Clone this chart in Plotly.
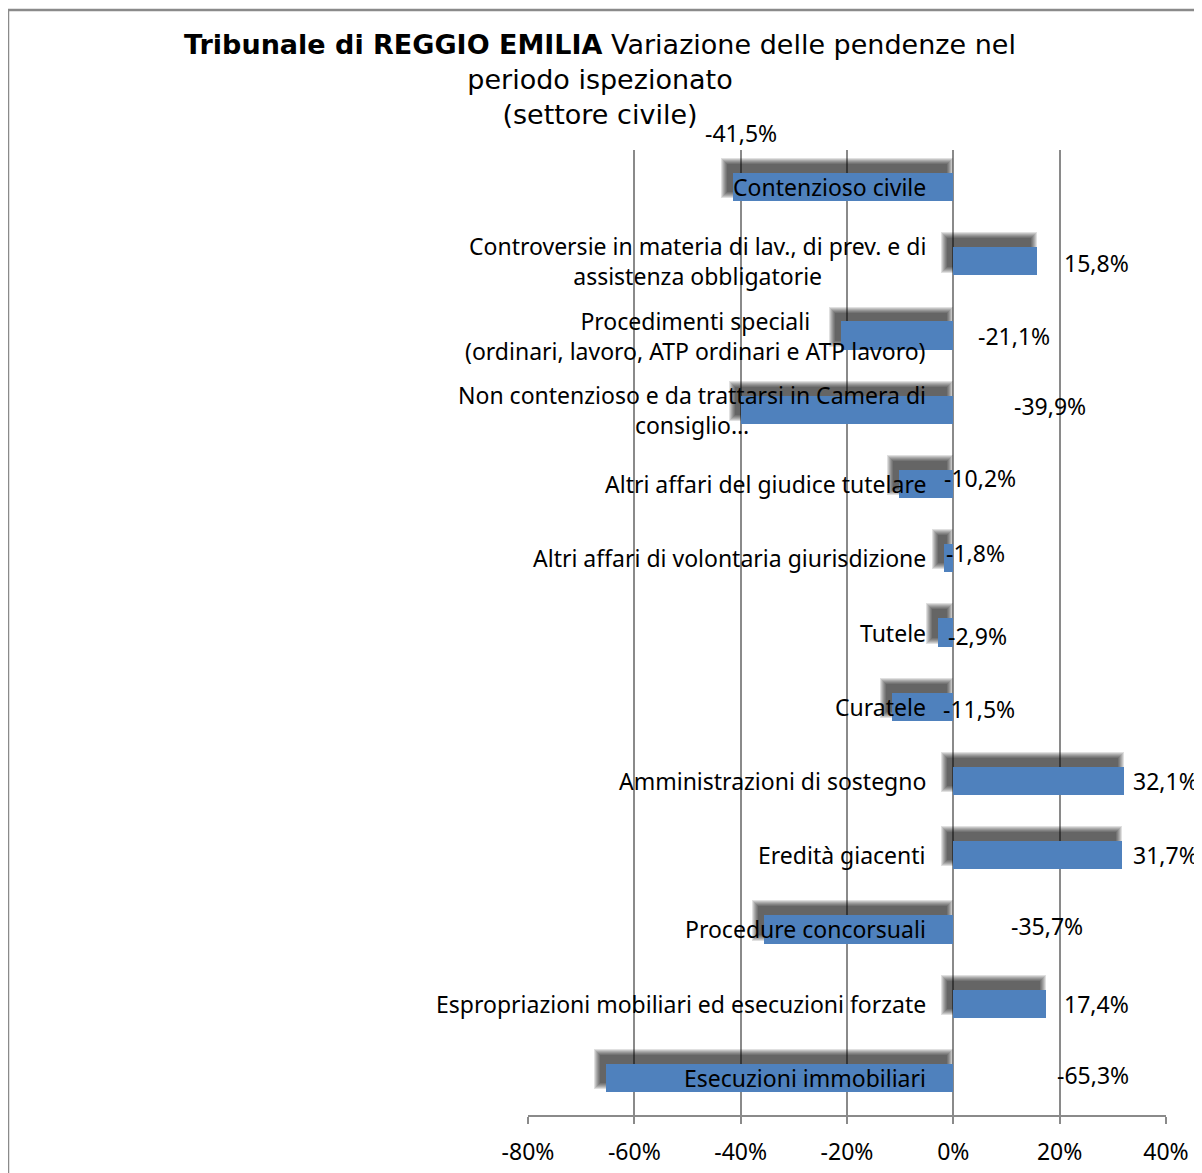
import plotly.graph_objects as go

# Dati: variazione percentuale delle pendenze (settore civile)
categorie = [
    "Contenzioso civile",
    "Controversie in materia di lav., di prev. e di<br>assistenza obbligatorie",
    "Procedimenti speciali<br>(ordinari, lavoro, ATP ordinari e ATP lavoro)",
    "Non contenzioso e da trattarsi in Camera di<br>consiglio…",
    "Altri affari del giudice tutelare",
    "Altri affari di volontaria giurisdizione",
    "Tutele",
    "Curatele",
    "Amministrazioni di sostegno",
    "Eredità giacenti",
    "Procedure concorsuali",
    "Espropriazioni mobiliari ed esecuzioni forzate",
    "Esecuzioni immobiliari",
]
variazioni = [-41.5, 15.8, -21.1, -39.9, -10.2, -1.8, -2.9, -11.5, 32.1, 31.7, -35.7, 17.4, -65.3]

tick_vals = [-80, -60, -40, -20, 0, 20, 40]
tick_text = ["-80%", "-60%", "-40%", "-20%", "0%", "20%", "40%"]

# spostamento (px) delle etichette dati rispetto alla linea dello zero, come nell'originale
label_dx = [-250, 109, 23, 59, -11, -9, -7, -12, 178, 178, 56, 109, 102]
label_dy = [-54, 2, 0, -4, -6, -5, 3, 2, 0, 0, -3, 0, -3]

W, H = 1202, 1173
OFF = 8  # margine del body della pagina
L, R, T, B = 528 - OFF, W - 1166 + OFF, 150 - OFF, H - 1115 + OFF
BLUE = "#4F81BD"
GRID = "#8a8a8a"
FONT = "Noto Sans"

px_per_pct = (W - L - R) / 120.0
px_per_cat = (H - T - B) / 13.0

pos = list(range(len(categorie)))
bar_w = 0.38

fig = go.Figure()

# ombra sfocata: tanti strati leggeri, via via piu' larghi
for e in [6, 5, 4, 3, 2, 1, 0]:
    ep = e / px_per_pct
    ec = 2 * e / px_per_cat
    base = [min(0, v) - 1.1 - ep for v in variazioni]
    length = [abs(v) + 2 * ep for v in variazioni]
    fig.add_trace(go.Bar(
        y=pos, x=length, base=base, orientation="h",
        width=bar_w + ec, offset=-(bar_w + ec) / 2 - 0.12,
        marker=dict(color="rgba(0,0,0,0.12)", line=dict(width=0)),
        hoverinfo="skip", showlegend=False,
    ))

fig.add_trace(go.Bar(
    y=pos, x=variazioni, orientation="h", width=bar_w,
    marker=dict(color=BLUE, line=dict(width=0)),
    showlegend=False,
))

# etichette delle categorie accanto all'asse dello zero
for i, c in enumerate(categorie):
    fig.add_annotation(x=0, y=i, text=c, showarrow=False, xanchor="right",
                       yanchor="middle", align="center", xshift=-25,
                       font=dict(family=FONT, size=23, color="black"))

# etichette dati
for i, v in enumerate(variazioni):
    fig.add_annotation(x=0, y=i, text=f"{v:.1f}%".replace(".", ","), showarrow=False,
                       xanchor="left", yanchor="middle", xshift=label_dx[i],
                       yshift=-label_dy[i],
                       font=dict(family=FONT, size=23, color="black"))

# bordo del grafico (sinistra e alto, il resto esce dall'immagine)
x_left = (8 - 528) / (W - L - R)
y_top = (1107 - 2) / (H - T - B)
fig.add_shape(type="line", xref="paper", yref="paper",
              x0=x_left, x1=x_left, y0=-0.2, y1=y_top,
              line=dict(color=GRID, width=2.5), layer="above")
fig.add_shape(type="line", xref="paper", yref="paper",
              x0=x_left, x1=1.2, y0=y_top, y1=y_top,
              line=dict(color=GRID, width=2.5), layer="above")

fig.update_layout(
    width=W, height=H,
    margin=dict(l=L, r=R, t=T, b=B),
    paper_bgcolor="white", plot_bgcolor="white",
    barmode="overlay", bargap=0,
    title=dict(
        text="<b>Tribunale di REGGIO EMILIA</b> Variazione delle pendenze nel<br>periodo ispezionato<br>(settore civile)",
        x=(600 - OFF) / W, xref="container", xanchor="center",
        y=1 - (54 - OFF) / H, yref="container", yanchor="top",
        font=dict(family="DejaVu Sans", size=27, color="black"),
    ),
    font=dict(family=FONT, size=23, color="black"),
)

fig.update_xaxes(range=[-80, 40], tickvals=tick_vals, ticktext=tick_text,
                 showgrid=True, gridcolor=GRID, gridwidth=1.5,
                 zeroline=True, zerolinecolor=GRID, zerolinewidth=1.5,
                 showline=True, linecolor=GRID, linewidth=2,
                 ticks="outside", ticklen=7, tickcolor=GRID, tickwidth=1.5,
                 ticklabelstandoff=8,
                 tickfont=dict(family=FONT, size=23, color="black"))
fig.update_yaxes(range=[12.5, -0.5], showticklabels=False, showgrid=False,
                 zeroline=False, showline=False)

fig.write_html("out.html")
